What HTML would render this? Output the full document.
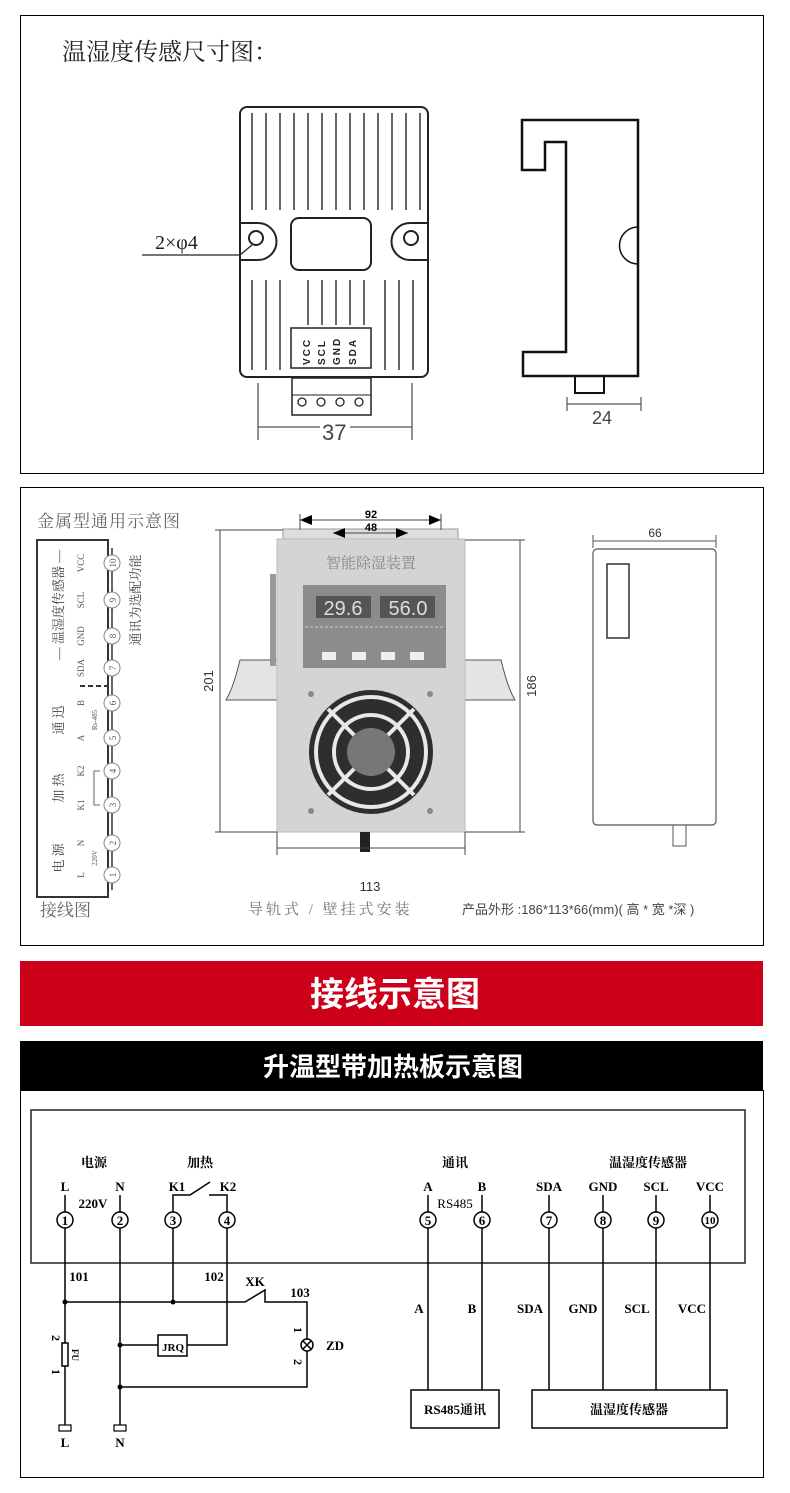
<!DOCTYPE html>
<html><head><meta charset="utf-8"><style>
html,body{margin:0;padding:0;background:#fff;}
svg{display:block;}
.s{font-family:"Liberation Serif","Noto Serif CJK SC",serif;}
.a{font-family:"Liberation Sans","Noto Sans CJK SC",sans-serif;}
</style></head><body>
<svg width="790" height="1493" viewBox="0 0 790 1493" xmlns="http://www.w3.org/2000/svg">
<rect width="790" height="1493" fill="#fff"/>
<!-- Panel 1 -->
<rect x="20.5" y="15.5" width="743" height="458" fill="none" stroke="#000" stroke-width="1"/>
<text x="62" y="60" class="s" font-size="24" fill="#222">温湿度传感尺寸图：</text>
<g stroke="#222" fill="none" stroke-width="2">
<rect x="240" y="107" width="188" height="270" rx="7"/>
<path d="M240 223 H258 A18 18 0 0 1 258 260 H240"/>
<path d="M428 223 H410 A18 18 0 0 0 410 260 H428"/>
<circle cx="256" cy="238" r="7"/>
<circle cx="411" cy="238" r="7"/>
<rect x="291" y="218" width="80" height="52" rx="8"/>
<rect x="291" y="328" width="80" height="40" stroke-width="1.5"/>
<rect x="292" y="378" width="79" height="37" stroke-width="1.5"/>
<line x1="292" y1="395" x2="371" y2="395" stroke-width="1"/>
</g>
<g stroke="#333" stroke-width="1.5">
<line x1="252" y1="113" x2="252" y2="210"/><line x1="266" y1="113" x2="266" y2="210"/><line x1="280" y1="113" x2="280" y2="210"/><line x1="294" y1="113" x2="294" y2="210"/><line x1="308" y1="113" x2="308" y2="210"/><line x1="322" y1="113" x2="322" y2="210"/><line x1="336" y1="113" x2="336" y2="210"/><line x1="350" y1="113" x2="350" y2="210"/><line x1="364" y1="113" x2="364" y2="210"/><line x1="378" y1="113" x2="378" y2="210"/><line x1="392" y1="113" x2="392" y2="210"/><line x1="406" y1="113" x2="406" y2="210"/><line x1="420" y1="113" x2="420" y2="210"/>
<line x1="252" y1="280" x2="252" y2="370"/><line x1="266" y1="280" x2="266" y2="370"/><line x1="280" y1="280" x2="280" y2="370"/><line x1="385" y1="280" x2="385" y2="370"/><line x1="399" y1="280" x2="399" y2="370"/><line x1="413" y1="280" x2="413" y2="370"/>
<line x1="308" y1="280" x2="308" y2="325"/><line x1="322" y1="280" x2="322" y2="325"/><line x1="336" y1="280" x2="336" y2="325"/><line x1="350" y1="280" x2="350" y2="325"/><line x1="364" y1="280" x2="364" y2="325"/>
</g>
<g class="a" font-size="10" fill="#222" font-weight="bold">
<text transform="translate(310,365) rotate(-90)" letter-spacing="2">VCC</text>
<text transform="translate(325,365) rotate(-90)" letter-spacing="2">SCL</text>
<text transform="translate(340,365) rotate(-90)" letter-spacing="2">GND</text>
<text transform="translate(356,365) rotate(-90)" letter-spacing="2">SDA</text>
</g>
<g stroke="#222" stroke-width="1.3" fill="none">
<circle cx="302" cy="402" r="4"/><circle cx="321" cy="402" r="4"/><circle cx="340" cy="402" r="4"/><circle cx="359" cy="402" r="4"/>
<line x1="258" y1="383" x2="258" y2="440" stroke="#555"/><line x1="412" y1="383" x2="412" y2="440" stroke="#555"/>
<line x1="258" y1="427" x2="320" y2="427" stroke="#555"/><line x1="350" y1="427" x2="412" y2="427" stroke="#555"/>
<path d="M142 255 H240 L252 245"/>
</g>
<text x="322" y="440" class="a" font-size="22" fill="#444">37</text>
<text x="155" y="249" class="s" font-size="20" fill="#222">2×φ4</text>
<path d="M522 120 H638 V376 H523 V352 H566 V142 H545 V170 H522 Z" fill="none" stroke="#111" stroke-width="2.5"/>
<path d="M638 227 A18 18 0 0 0 638 264" fill="none" stroke="#111" stroke-width="1.5"/>
<rect x="575" y="376" width="29" height="17" fill="none" stroke="#111" stroke-width="2"/>
<g stroke="#555" stroke-width="1.2"><line x1="567" y1="397" x2="567" y2="411"/><line x1="641" y1="397" x2="641" y2="411"/><line x1="567" y1="404" x2="641" y2="404"/></g>
<text x="592" y="424" class="a" font-size="18" fill="#444">24</text>

<!-- Panel 2 -->
<rect x="20.5" y="487.5" width="743" height="458" fill="none" stroke="#000" stroke-width="1"/>
<text x="37" y="527" class="s" font-size="17" fill="#666" letter-spacing="1">金属型通用示意图</text>
<path d="M108 540 H37 V897 H108 Z" fill="none" stroke="#333" stroke-width="2"/>
<g stroke="#888" fill="#fff" stroke-width="1">
<line x1="112" y1="548" x2="112" y2="890" stroke="#333" stroke-width="1.5"/>
<circle cx="112" cy="563" r="8"/><circle cx="112" cy="600" r="8"/><circle cx="112" cy="636" r="8"/><circle cx="112" cy="668" r="8"/><circle cx="112" cy="703" r="8"/><circle cx="112" cy="738" r="8"/><circle cx="112" cy="771" r="8"/><circle cx="112" cy="805" r="8"/><circle cx="112" cy="843" r="8"/><circle cx="112" cy="875" r="8"/>
</g>
<g class="s" font-size="9" fill="#555" text-anchor="middle">
<text transform="translate(116,563) rotate(-90)">10</text><text transform="translate(116,600) rotate(-90)">9</text><text transform="translate(116,636) rotate(-90)">8</text><text transform="translate(116,668) rotate(-90)">7</text><text transform="translate(116,703) rotate(-90)">6</text><text transform="translate(116,738) rotate(-90)">5</text><text transform="translate(116,771) rotate(-90)">4</text><text transform="translate(116,805) rotate(-90)">3</text><text transform="translate(116,843) rotate(-90)">2</text><text transform="translate(116,875) rotate(-90)">1</text>
<text transform="translate(84,563) rotate(-90)">VCC</text><text transform="translate(84,600) rotate(-90)">SCL</text><text transform="translate(84,636) rotate(-90)">GND</text><text transform="translate(84,668) rotate(-90)">SDA</text><text transform="translate(84,703) rotate(-90)">B</text><text transform="translate(84,738) rotate(-90)">A</text><text transform="translate(84,771) rotate(-90)">K2</text><text transform="translate(84,805) rotate(-90)">K1</text><text transform="translate(84,843) rotate(-90)">N</text><text transform="translate(84,875) rotate(-90)">L</text>
<text transform="translate(97,720) rotate(-90)" font-size="7">Rs-485</text>
<text transform="translate(97,858) rotate(-90)" font-size="7">220V</text>
</g>
<g class="s" font-size="13" fill="#444" text-anchor="middle">
<text transform="translate(63,605) rotate(-90)">— 温湿度传感器 —</text>
<text transform="translate(63,720) rotate(-90)">通 迅</text>
<text transform="translate(63,788) rotate(-90)">加 热</text>
<text transform="translate(63,858) rotate(-90)">电 源</text>
<text transform="translate(140,600) rotate(-90)">通讯为选配功能</text>
</g>
<path d="M80 686 H108" stroke="#333" stroke-dasharray="5 3" stroke-width="2"/>
<path d="M100 771 H94 V805 H100" stroke="#666" fill="none"/>
<text x="40" y="916" class="s" font-size="17" fill="#666">接线图</text>
<!-- device -->
<path d="M226 700 C232 690 236 676 240 660 H280 V700 Z" fill="#e4e4e4" stroke="#555"/>
<path d="M515 700 C509 690 505 676 501 660 H462 V700 Z" fill="#e4e4e4" stroke="#555"/>
<rect x="270" y="574" width="6" height="92" fill="#999"/>
<rect x="283" y="529" width="175" height="12" fill="#ddd" stroke="#999"/>
<rect x="277" y="539" width="188" height="293" fill="#d4d4d4" stroke="#bbb"/>
<text x="371" y="568" class="s" font-size="15" fill="#888" text-anchor="middle">智能除湿装置</text>
<rect x="303" y="585" width="143" height="83" fill="#8c8c8c"/>
<rect x="316" y="596" width="55" height="22" fill="#555"/><rect x="380" y="596" width="55" height="22" fill="#555"/>
<text x="343" y="615" class="a" font-size="20" fill="#ddd" text-anchor="middle">29.6</text>
<text x="408" y="615" class="a" font-size="20" fill="#ddd" text-anchor="middle">56.0</text>
<line x1="305" y1="627" x2="444" y2="627" stroke="#ccc" stroke-dasharray="3 2"/>
<g fill="#eee"><rect x="322" y="652" width="14" height="8"/><rect x="352" y="652" width="14" height="8"/><rect x="381" y="652" width="14" height="8"/><rect x="410" y="652" width="14" height="8"/></g>
<g fill="#888"><circle cx="311" cy="694" r="3"/><circle cx="430" cy="694" r="3"/><circle cx="311" cy="811" r="3"/><circle cx="430" cy="811" r="3"/></g>
<circle cx="371" cy="752" r="62" fill="#2e2e2e"/>
<g fill="none" stroke="#e8e8e8" stroke-width="4">
<circle cx="371" cy="752" r="55"/><circle cx="371" cy="752" r="37"/>
<line x1="328" y1="709" x2="414" y2="795"/><line x1="414" y1="709" x2="328" y2="795"/>
</g>
<circle cx="371" cy="752" r="24" fill="#777"/>
<rect x="360" y="832" width="10" height="20" fill="#222"/>
<g stroke="#444" stroke-width="1" fill="#000">
<line x1="220" y1="530" x2="220" y2="832"/><line x1="215" y1="530" x2="283" y2="530"/><line x1="215" y1="832" x2="277" y2="832"/>
<line x1="520" y1="540" x2="520" y2="832"/><line x1="465" y1="540" x2="525" y2="540"/><line x1="465" y1="832" x2="525" y2="832"/>
<line x1="300" y1="520" x2="441" y2="520"/><line x1="300" y1="514" x2="300" y2="530"/><line x1="441" y1="514" x2="441" y2="530"/>
<line x1="333" y1="533" x2="408" y2="533"/>
<line x1="277" y1="832" x2="277" y2="855"/><line x1="465" y1="832" x2="465" y2="855"/><line x1="277" y1="848" x2="465" y2="848"/>
<path d="M300 520 l12 -5 v10z M441 520 l-12 -5 v10z M333 533 l12 -5 v10z M408 533 l-12 -5 v10z" stroke="none"/>
</g>
<text x="371" y="518" class="a" font-size="11" font-weight="bold" text-anchor="middle">92</text>
<text x="371" y="531" class="a" font-size="11" font-weight="bold" text-anchor="middle">48</text>
<text transform="translate(213,681) rotate(-90)" class="a" font-size="13" fill="#333" text-anchor="middle">201</text>
<text transform="translate(536,686) rotate(-90)" class="a" font-size="13" fill="#333" text-anchor="middle">186</text>
<text x="370" y="891" class="a" font-size="13" fill="#333" text-anchor="middle">113</text>
<rect x="593" y="549" width="123" height="276" rx="4" fill="none" stroke="#555" stroke-width="1.2"/>
<rect x="607" y="564" width="22" height="74" fill="none" stroke="#333" stroke-width="1.5"/>
<rect x="673" y="825" width="13" height="21" fill="none" stroke="#555"/>
<g stroke="#555"><line x1="593" y1="535" x2="593" y2="548"/><line x1="716" y1="535" x2="716" y2="548"/><line x1="593" y1="541" x2="716" y2="541"/></g>
<text x="655" y="537" class="a" font-size="12" fill="#333" text-anchor="middle">66</text>
<text x="248" y="914" class="s" font-size="15" fill="#777" letter-spacing="3">导轨式 / 壁挂式安装</text>
<text x="462" y="914" class="a" font-size="13" fill="#444">产品外形 :186*113*66(mm)( 高 * 宽  *深 )</text>

<rect x="20" y="961" width="743" height="65" fill="#cc0018"/>
<text x="395" y="1006" class="a" font-size="34" font-weight="bold" fill="#fff" text-anchor="middle">接线示意图</text>
<rect x="20" y="1041" width="743" height="50" fill="#000"/>
<text x="393" y="1076" class="a" font-size="26" font-weight="bold" fill="#fff" text-anchor="middle">升温型带加热板示意图</text>

<rect x="20.5" y="1090.5" width="743" height="387" fill="none" stroke="#000" stroke-width="1"/>
<rect x="31" y="1110" width="714" height="153" fill="none" stroke="#222" stroke-width="1.5"/>
<g class="s" font-weight="bold" font-size="13" fill="#000" text-anchor="middle">
<text x="94" y="1167">电源</text><text x="200" y="1167">加热</text><text x="455" y="1167">通讯</text><text x="648" y="1167">温湿度传感器</text>
<text x="65" y="1191">L</text><text x="120" y="1191">N</text><text x="177" y="1191">K1</text><text x="228" y="1191">K2</text>
<text x="428" y="1191">A</text><text x="482" y="1191">B</text><text x="549" y="1191">SDA</text><text x="603" y="1191">GND</text><text x="656" y="1191">SCL</text><text x="710" y="1191">VCC</text>
<text x="93" y="1208">220V</text><text x="455" y="1208" font-weight="normal">RS485</text>
<text x="79" y="1281">101</text><text x="214" y="1281">102</text><text x="300" y="1297">103</text><text x="255" y="1286">XK</text>
<text x="335" y="1350">ZD</text><text x="65" y="1447">L</text><text x="120" y="1447">N</text>
<text x="173" y="1351" font-size="11">JRQ</text>
<text x="419" y="1313">A</text><text x="472" y="1313">B</text><text x="530" y="1313">SDA</text><text x="583" y="1313">GND</text><text x="637" y="1313">SCL</text><text x="692" y="1313">VCC</text>
<text x="455" y="1414">RS485通讯</text><text x="629" y="1414">温湿度传感器</text>
</g>
<g class="s" font-weight="bold" font-size="12" text-anchor="middle">
<text transform="translate(52,1338) rotate(90)">2</text><text transform="translate(52,1372) rotate(90)">1</text>
<text transform="translate(294,1330) rotate(90)">1</text><text transform="translate(294,1362) rotate(90)">2</text>
<text transform="translate(72,1355) rotate(90)" font-size="9">FU</text>
</g>
<g stroke="#000" stroke-width="1.5" fill="none">
<line x1="65" y1="1195" x2="65" y2="1212"/><line x1="120" y1="1195" x2="120" y2="1212"/><line x1="428" y1="1195" x2="428" y2="1212"/><line x1="482" y1="1195" x2="482" y2="1212"/>
<line x1="549" y1="1195" x2="549" y2="1212"/><line x1="603" y1="1195" x2="603" y2="1212"/><line x1="656" y1="1195" x2="656" y2="1212"/><line x1="710" y1="1195" x2="710" y2="1212"/>
<path d="M173 1212 V1195 H190 L210 1182"/><path d="M209 1195 H227 V1212"/>
<line x1="65" y1="1228" x2="65" y2="1343"/><line x1="65" y1="1366" x2="65" y2="1425"/>
<rect x="62" y="1343" width="6" height="23"/>
<line x1="120" y1="1228" x2="120" y2="1425"/>
<line x1="173" y1="1228" x2="173" y2="1302"/>
<path d="M227 1228 V1345 H187"/><rect x="158" y="1335" width="29" height="21"/><line x1="158" y1="1345" x2="120" y2="1345"/>
<path d="M65 1302 H245 L265 1290 M265 1289 V1302 H307 V1339 M307 1351 V1387 H120"/>
<circle cx="307" cy="1345" r="6"/><path d="M303 1341 l8 8 M311 1341 l-8 8"/>
<line x1="428" y1="1228" x2="428" y2="1390"/><line x1="482" y1="1228" x2="482" y2="1390"/>
<line x1="549" y1="1228" x2="549" y2="1390"/><line x1="603" y1="1228" x2="603" y2="1390"/><line x1="656" y1="1228" x2="656" y2="1390"/><line x1="710" y1="1228" x2="710" y2="1390"/>
<rect x="411" y="1390" width="88" height="38"/><rect x="532" y="1390" width="195" height="38"/>
<rect x="59" y="1425" width="12" height="6" stroke-width="1.2"/><rect x="114" y="1425" width="12" height="6" stroke-width="1.2"/>
<circle cx="65" cy="1220" r="8"/><circle cx="120" cy="1220" r="8"/><circle cx="173" cy="1220" r="8"/><circle cx="227" cy="1220" r="8"/>
<circle cx="428" cy="1220" r="8"/><circle cx="482" cy="1220" r="8"/><circle cx="549" cy="1220" r="8"/><circle cx="603" cy="1220" r="8"/><circle cx="656" cy="1220" r="8"/><circle cx="710" cy="1220" r="8"/>
</g>
<g fill="#000"><circle cx="65" cy="1302" r="2.5"/><circle cx="173" cy="1302" r="2.5"/><circle cx="120" cy="1345" r="2.5"/><circle cx="120" cy="1387" r="2.5"/></g>
<g class="s" font-weight="bold" font-size="13" text-anchor="middle">
<text x="65" y="1225">1</text><text x="120" y="1225">2</text><text x="173" y="1225">3</text><text x="227" y="1225">4</text><text x="428" y="1225">5</text><text x="482" y="1225">6</text><text x="549" y="1225">7</text><text x="603" y="1225">8</text><text x="656" y="1225">9</text><text x="710" y="1224" font-size="11">10</text>
</g>
</svg>
</body></html>
